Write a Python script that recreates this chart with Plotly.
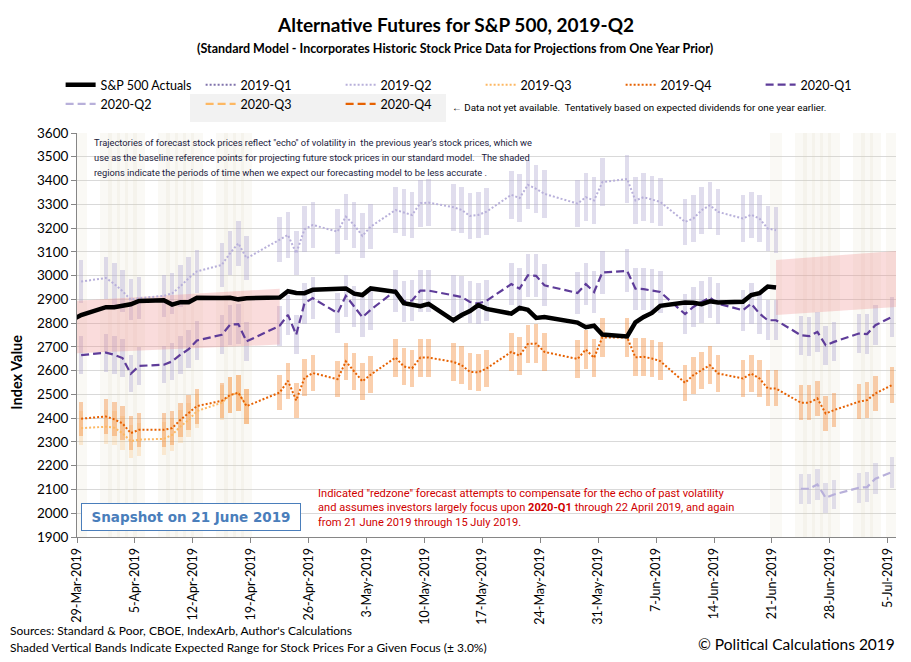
import plotly.graph_objects as go

# ---------------- data ----------------
trade_dates = [
    "2019-03-29", "2019-04-01", "2019-04-02", "2019-04-03", "2019-04-04", "2019-04-05",
    "2019-04-08", "2019-04-09", "2019-04-10", "2019-04-11", "2019-04-12",
    "2019-04-15", "2019-04-16", "2019-04-17", "2019-04-18",
    "2019-04-22", "2019-04-23", "2019-04-24", "2019-04-25", "2019-04-26",
    "2019-04-29", "2019-04-30", "2019-05-01", "2019-05-02", "2019-05-03",
    "2019-05-06", "2019-05-07", "2019-05-08", "2019-05-09", "2019-05-10",
    "2019-05-13", "2019-05-14", "2019-05-15", "2019-05-16", "2019-05-17",
    "2019-05-20", "2019-05-21", "2019-05-22", "2019-05-23", "2019-05-24",
    "2019-05-28", "2019-05-29", "2019-05-30", "2019-05-31",
    "2019-06-03", "2019-06-04", "2019-06-05", "2019-06-06", "2019-06-07",
    "2019-06-10", "2019-06-11", "2019-06-12", "2019-06-13", "2019-06-14",
    "2019-06-17", "2019-06-18", "2019-06-19", "2019-06-20", "2019-06-21",
    "2019-06-24", "2019-06-25", "2019-06-26", "2019-06-27", "2019-06-28",
    "2019-07-01", "2019-07-02", "2019-07-03", "2019-07-05",
]

actual_dates = ["2019-03-28"] + trade_dates[:59]
sp500_actual = [
    2815, 2834, 2867, 2867, 2873, 2879, 2893, 2896, 2878, 2888, 2888, 2907,
    2906, 2907, 2900, 2905, 2908, 2934, 2927, 2926, 2940, 2943, 2946, 2924,
    2918, 2946, 2932, 2884, 2879, 2871, 2881, 2812, 2834, 2851, 2876, 2860,
    2840, 2864, 2856, 2822, 2826, 2802, 2783, 2789, 2752, 2744, 2803, 2826,
    2843, 2873, 2887, 2886, 2880, 2892, 2887, 2890, 2918, 2926, 2954, 2950,
]

q2_2019_dates = trade_dates[:59]
fc_2019q2 = [
    2975, 2990, 2965, 2935, 2898, 2905, 2915, 2925, 2955, 2989, 3018,
    3045, 3094, 3136, 3073, 3150, 3171, 3094, 3195, 3213, 3185, 3248,
    3213, 3167, 3206, 3276, 3265, 3255, 3305, 3307, 3288, 3276, 3251,
    3255, 3269, 3340, 3326, 3382, 3365, 3344, 3303, 3330, 3316, 3393,
    3407, 3316, 3330, 3321, 3310, 3226, 3240, 3275, 3296, 3268, 3240,
    3256, 3240, 3198, 3191,
]

q3_2019_dates = trade_dates[:15]
fc_2019q3 = [
    2358, 2364, 2360, 2337, 2303, 2310, 2313, 2330, 2365, 2393, 2430,
    2465, 2497, 2507, 2451,
]

fc_2019q4 = [
    2398, 2407, 2395, 2378, 2337, 2351, 2351, 2358, 2393, 2423, 2451,
    2473, 2497, 2507, 2451, 2508, 2557, 2475, 2570, 2590, 2564, 2639,
    2597, 2555, 2583, 2655, 2618, 2610, 2655, 2655, 2637, 2623, 2595,
    2593, 2609, 2679, 2663, 2712, 2714, 2679, 2649, 2689, 2654, 2740,
    2740, 2656, 2658, 2651, 2640, 2549, 2581, 2602, 2623, 2588, 2567,
    2588, 2567, 2525, 2525, 2465, 2465, 2483, 2420, 2434, 2469, 2476,
    2504, 2539,
]

fc_2020q1 = [
    2665, 2676, 2667, 2653, 2587, 2620, 2625, 2639, 2667, 2690, 2727,
    2751, 2793, 2796, 2723, 2789, 2835, 2751, 2884, 2905, 2842, 2915,
    2870, 2825, 2856, 2937, 2891, 2895, 2937, 2937, 2917, 2910, 2889,
    2882, 2894, 2964, 2945, 3001, 2999, 2959, 2927, 2964, 2931, 3013,
    3020, 2945, 2943, 2938, 2931, 2838, 2868, 2889, 2908, 2882, 2854,
    2882, 2840, 2812, 2812, 2749, 2745, 2763, 2707, 2721, 2756, 2754,
    2791, 2826,
]

q2_2020_dates = trade_dates[59:]
fc_2020q2 = [2103, 2103, 2121, 2065, 2079, 2107, 2110, 2145, 2173]

# redzone (focus on 2020-Q1) periods
redzone1_dates = ["2019-03-28", "2019-04-22"]
redzone1_low = [2672, 2710]
redzone1_high = [2893, 2945]
redzone2_dates = ["2019-06-21", "2019-07-08"]
redzone2_low = [2834, 2874]
redzone2_high = [3066, 3110]

# periods when model expected to be less accurate
shaded_dates = trade_dates[:15] + trade_dates[58:]

band_pct = 0.03  # +/- 3.0% expected range
y_min, y_max = 1900, 3600

note_lines = [
    "Trajectories of forecast stock prices reflect \"echo\" of volatility in  the previous year's stock prices, which we",
    "use as the baseline reference points for projecting future stock prices in our standard model.   The shaded",
    "regions indicate the periods of time when we expect our forecasting model to be less accurate .",
]

# ---------------- styling ----------------
FONT = "Lato"
NARROW = "Roboto"
DAY_MS = 86400000


def noon(ds):
    return [d + " 12:00" for d in ds]


def band_trace(dates, vals, color):
    return go.Bar(
        x=noon(dates),
        y=[v * 2 * band_pct for v in vals],
        base=[v * (1 - band_pct) for v in vals],
        width=0.55 * DAY_MS,
        marker=dict(color=color, line=dict(width=0)),
        showlegend=False,
        hoverinfo="skip",
    )


fig = go.Figure()

# shaded vertical regions
fig.add_trace(go.Bar(
    x=noon(shaded_dates),
    y=[y_max - y_min] * len(shaded_dates),
    base=[y_min] * len(shaded_dates),
    width=1.4 * DAY_MS,
    marker=dict(color="rgba(214,206,176,0.13)", line=dict(width=0)),
    showlegend=False, hoverinfo="skip",
))

# expected-range bands
fig.add_trace(band_trace(q3_2019_dates, fc_2019q3, "rgba(253,184,99,0.25)"))
fig.add_trace(band_trace(trade_dates, fc_2019q4, "rgba(244,140,60,0.42)"))
fig.add_trace(band_trace(q2_2019_dates, fc_2019q2, "rgba(178,171,210,0.40)"))
fig.add_trace(band_trace(trade_dates, fc_2020q1, "rgba(178,171,210,0.42)"))
fig.add_trace(band_trace(q2_2020_dates, fc_2020q2, "rgba(178,171,210,0.36)"))

# redzones
for rd, lo, hi in [(redzone1_dates, redzone1_low, redzone1_high),
                   (redzone2_dates, redzone2_low, redzone2_high)]:
    fig.add_trace(go.Scatter(x=noon(rd), y=lo, mode="lines", line=dict(width=0),
                             showlegend=False, hoverinfo="skip"))
    fig.add_trace(go.Scatter(x=noon(rd), y=hi, mode="lines", line=dict(width=0),
                             fill="tonexty", fillcolor="rgba(240,140,140,0.30)",
                             showlegend=False, hoverinfo="skip"))

DOT = "2px,2px"
DASH = "8px,4px"

series = [
    ("2019-Q1", [None], [None], "#8073ac", DOT, 2, 2),
    ("2019-Q2", q2_2019_dates, fc_2019q2, "#b8b0da", DOT, 2, 3),
    ("2019-Q3", q3_2019_dates, fc_2019q3, "#fdb863", DOT, 2, 4),
    ("2019-Q4", trade_dates, fc_2019q4, "#e66101", DOT, 2, 5),
    ("2020-Q1", trade_dates, fc_2020q1, "#5e3c99", DASH, 2.2, 6),
    ("2020-Q2", q2_2020_dates, fc_2020q2, "#b8b0da", DASH, 2.2, 7),
    ("2020-Q3", [None], [None], "#fdb863", DASH, 2.2, 8),
    ("2020-Q4", [None], [None], "#e66101", DASH, 2.2, 9),
]
for name, xs, ys, col, dash, w, rank in series:
    xv = noon(xs) if xs and xs[0] is not None else xs
    fig.add_trace(go.Scatter(
        x=xv, y=ys, mode="lines", name=name, legendrank=rank,
        line=dict(color=col, width=w, dash=dash),
    ))

fig.add_trace(go.Scatter(
    x=noon(actual_dates), y=sp500_actual, mode="lines", name="S&P 500 Actuals",
    legendrank=1, line=dict(color="black", width=4.5),
))

# ---------------- layout ----------------
L, R, T, B = 77, 15, 133, 124.5
H = 662
ph = H - T - B
pw = 911 - L - R


def px(xp):
    return (xp - L) / pw


def py(yp):
    return (H - B - yp) / ph


annotations = [
    dict(text="<b>Alternative Futures for S&P 500, 2019-Q2</b>", x=px(455), y=py(24),
         xanchor="center", font=dict(family=FONT, size=19, color="black")),
    dict(text="<b>(Standard Model - Incorporates Historic Stock Price Data for Projections from One Year Prior)</b>",
         x=px(455), y=py(48), xanchor="center", font=dict(family=FONT, size=12.5, color="black")),
    dict(text="\u2190 Data not yet available.  Tentatively based on expected dividends for one year earlier.",
         x=px(450), y=py(107), xanchor="left", font=dict(family=NARROW, size=9.8, color="black")),
    dict(text=("Indicated \"redzone\" forecast attempts to compensate for the echo of past volatility<br>"
               "and assumes investors largely focus upon <b>2020-Q1</b> through 22 April 2019, and again<br>"
               "from 21 June 2019 through 15 July 2019."),
         x=px(316), y=py(485), xanchor="left", yanchor="top", align="left",
         font=dict(family="Roboto", size=11.1, color="#d00000")),
    dict(text="<b>Snapshot on 21 June 2019</b>", x=px(191), y=py(517), xanchor="center",
         font=dict(family="DejaVu Sans", size=13.5, color="#4a7ebb"),
         bordercolor="#4a7ebb", borderwidth=1, bgcolor="white", width=214, height=22, borderpad=2),
    dict(text="<b>Index Value</b>", x=px(17), y=py(373), xanchor="center", textangle=-90,
         font=dict(family=FONT, size=14.5, color="black")),
    dict(text="Sources: Standard & Poor, CBOE, IndexArb, Author's Calculations",
         x=px(8), y=py(631), xanchor="left", font=dict(family=FONT, size=12, color="black")),
    dict(text="Shaded Vertical Bands Indicate Expected Range for Stock Prices For a Given Focus (\u00b1 3.0%)",
         x=px(8), y=py(648), xanchor="left", font=dict(family=FONT, size=12, color="black")),
    dict(text="\u00a9 Political Calculations 2019", x=px(897), y=py(645), xanchor="right",
         font=dict(family=FONT, size=15.5, color="black")),
]
for i, line in enumerate(note_lines):
    annotations.append(dict(text=line, x=px(92), y=py(143 + 15 * i), xanchor="left",
                            font=dict(family=NARROW, size=9.3, color="#1a1a3c")))
for a in annotations:
    a.setdefault("xref", "paper")
    a.setdefault("yref", "paper")
    a.setdefault("showarrow", False)
    a.setdefault("yanchor", "middle")

fig.update_layout(
    width=911, height=662,
    margin=dict(l=L, r=R, t=T, b=B, autoexpand=False),
    paper_bgcolor="white", plot_bgcolor="white",
    barmode="overlay", bargap=0,
    font=dict(family=FONT, color="black"),
    showlegend=True,
    legend=dict(orientation="h", x=-0.02, xanchor="left", y=py(70), yanchor="top",
                entrywidth=95, font=dict(family=FONT, size=12.5), itemwidth=30,
                bgcolor="rgba(0,0,0,0)", traceorder="normal"),
    annotations=annotations,
    shapes=[dict(type="rect", xref="paper", yref="paper",
                 x0=px(190), x1=px(446), y0=py(122), y1=py(94),
                 fillcolor="#f2f2f2", line=dict(width=0), layer="below")],
    xaxis=dict(
        type="date", range=["2019-03-29", "2019-07-06"],
        tick0="2019-03-29", dtick=7 * DAY_MS, tickformat="%-d-%b-%Y",
        tickangle=-90, tickfont=dict(family=FONT, size=12.5),
        showgrid=False, showline=True, linecolor="#868686", linewidth=1,
        ticks="outside", ticklen=5, tickcolor="#868686", zeroline=False,
    ),
    yaxis=dict(
        range=[y_min, y_max], dtick=100, tickfont=dict(family=FONT, size=13.5),
        showgrid=True, gridcolor="#d9d9d9", gridwidth=1,
        showline=True, linecolor="#868686", linewidth=1,
        ticks="outside", ticklen=5, tickcolor="#868686", zeroline=False,
    ),
)

fig.write_html("out.html")
